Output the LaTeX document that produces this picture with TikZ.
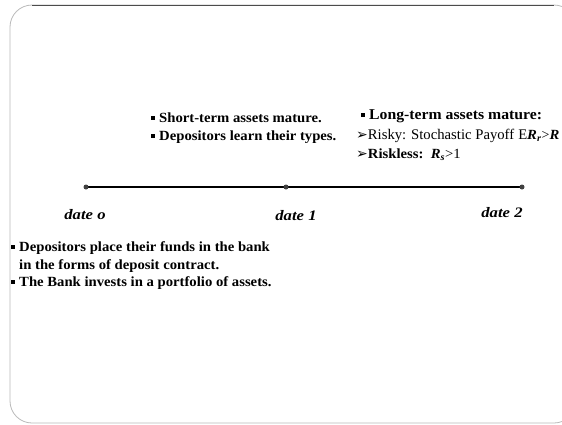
\documentclass[tikz,border=0pt]{standalone}
\usepackage{fontspec}
\setmainfont[FakeStretch=1.05]{Liberation Serif}
\newfontfamily\plainfont{Liberation Serif}
\newfontfamily\datefont[FakeStretch=1.15]{Liberation Serif}
\newfontfamily\symfont{DejaVu Sans}
\usetikzlibrary{positioning}

\newcommand\sqbul{\rule[2.5pt]{3.5pt}{3.5pt}\hspace{4.5pt}}
\newcommand\arrbul{{\symfont\fontsize{14}{16}\selectfont ➢}}

\begin{document}
\begin{tikzpicture}[x=1pt,y=-1pt,
    txt/.style={anchor=base west, inner sep=0pt, font=\bfseries\fontsize{14}{16}\selectfont},
    datelbl/.style={anchor=base, inner sep=0pt, font=\datefont\bfseries\itshape\fontsize{14.5}{16}\selectfont}]
    \useasboundingbox (0,0) rectangle (562,424);
    \clip (0,0) rectangle (562,424);
    % slide frame
    \draw [gray!55, line width=0.8pt, rounded corners=22pt] (10,5) rectangle (576,423);
    \draw [black!70, line width=0.8pt] (32,5) -- (554,5);
    % time line
    \coordinate (D0) at (86,187);
    \coordinate (D1) at (286,187);
    \coordinate (D2) at (522,187);
    \draw [line width=2.8pt] (D0) -- (D1) -- (D2);
    \foreach \p in {D0,D1,D2}
    \fill [black!75] (\p) circle (2.5pt);
    \node [datelbl] (L0) at (85,219) {date o};
    \node [datelbl] (L1) at (296,220) {date 1};
    \node [datelbl] (L2) at (502,217) {date 2};
    % date 1
    \node [txt] (S1) at (151,122) {\sqbul Short-term assets mature.};
    \node [txt] (S2) at (151,140) {\sqbul Depositors learn their types.};
    % date 2
    \node [txt, font=\bfseries\fontsize{15}{16}\selectfont] (T1) at (361,119) {\sqbul Long-term assets mature:};
    \node [txt] (T2) at (356,139) {\arrbul{\plainfont\mdseries\fontsize{14.7}{16}\selectfont Risky: Stochastic Payoff\hspace{4pt}E}\textit{R}\textsubscript{\textit{r}}{\plainfont\mdseries >}\textit{R}};
    \node [txt] (T3) at (356,158) {\arrbul Riskless:\ \ \textit{R}\textsubscript{\textit{s}}{\mdseries >1}};
    % date 0
    \node [txt] (B1) at (11,251) {\sqbul Depositors place their funds in the bank};
    \node [txt] (B2) at (19,269) {in the forms of deposit contract.};
    \node [txt] (B3) at (11,286) {\sqbul The Bank invests in a portfolio of assets.};
\end{tikzpicture}
\end{document}
